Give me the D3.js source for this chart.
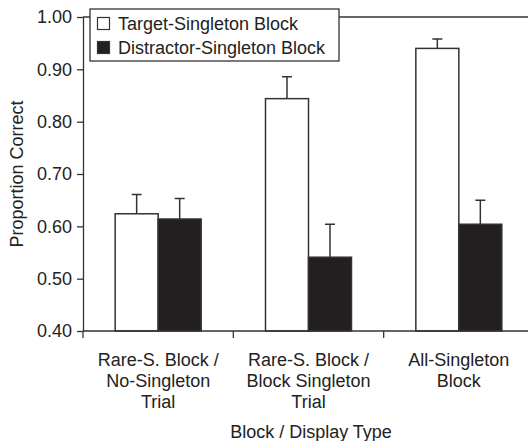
<!DOCTYPE html>
<html>
<head>
<meta charset="utf-8">
<script src="https://cdn.jsdelivr.net/npm/d3@7"></script>
<style>
  body { margin: 0; background: #fff; }
  text { font-family: "Liberation Sans", Arial, sans-serif; fill: #222; }
</style>
</head>
<body>
<div id="chart"></div>
<script>
// data
var categories = [
  ["Rare-S. Block /", "No-Singleton", "Trial"],
  ["Rare-S. Block /", "Block Singleton", "Trial"],
  ["All-Singleton", "Block"]
];
var seriesNames = ["Target-Singleton Block", "Distractor-Singleton Block"];
var targetMeans = [0.624, 0.844, 0.940];
var targetErr = [0.037, 0.042, 0.018];
var distractorMeans = [0.614, 0.541, 0.604];
var distractorErr = [0.039, 0.063, 0.046];
var yTicks = [0.40, 0.50, 0.60, 0.70, 0.80, 0.90, 1.00];

var W = 528, H = 441;
var margin = {top: 17, left: 83, bottom: 110};
var plotW = 451, plotH = H - margin.top - margin.bottom;
var ink = "#333";

var svg = d3.select("#chart").append("svg")
    .attr("width", W)
    .attr("height", H)
    .style("background-color", "white");

var g = svg.append("g")
    .attr("transform", "translate(" + margin.left + "," + margin.top + ")");

var data = categories.map(function(c, i) {
  return {
    i: i,
    vals: [
      {k: 0, v: targetMeans[i], e: targetErr[i]},
      {k: 1, v: distractorMeans[i], e: distractorErr[i]}
    ]
  };
});

var x0 = d3.scaleBand().domain(d3.range(categories.length)).range([0, plotW]);
var x1 = d3.scaleBand().domain([0, 1])
    .range([x0.bandwidth() / 2 - 43, x0.bandwidth() / 2 + 43]);
var y = d3.scaleLinear().domain([0.4, 1.0]).range([plotH, 0]);
var colors = ["#fff", "#231f20"];

// top frame line
g.append("line")
  .attr("x1", 0).attr("x2", plotW)
  .attr("y1", 0).attr("y2", 0)
  .attr("stroke", ink).attr("stroke-width", 1.3);

// bars
var groups = g.selectAll(".grp")
  .data(data)
  .enter().append("g")
  .attr("transform", function(d) { return "translate(" + x0(d.i) + ",0)"; });

groups.selectAll(".err")
  .data(function(d) { return d.vals; })
  .enter().append("path")
  .attr("d", function(d) {
    var cx = x1(d.k) + x1.bandwidth() / 2;
    return "M" + cx + "," + y(d.v) + "V" + y(d.v + d.e) +
      "M" + (cx - 5) + "," + y(d.v + d.e) + "H" + (cx + 5);
  })
  .attr("stroke", ink).attr("stroke-width", 1.5).attr("fill", "none");

groups.selectAll("rect")
  .data(function(d) { return d.vals; })
  .enter().append("rect")
  .attr("x", function(d) { return x1(d.k); })
  .attr("y", function(d) { return y(d.v); })
  .attr("width", x1.bandwidth())
  .attr("height", function(d) { return plotH - y(d.v); })
  .attr("fill", function(d) { return colors[d.k]; })
  .attr("stroke", ink).attr("stroke-width", 1.5);

// y axis
var yAxis = g.append("g")
  .call(d3.axisLeft(y).tickValues(yTicks).tickFormat(d3.format(".2f")).tickSize(6).tickSizeOuter(0));
yAxis.select(".domain").attr("stroke", ink).attr("stroke-width", 1.3);
yAxis.selectAll(".tick line").attr("stroke", ink).attr("stroke-width", 1.3);
yAxis.selectAll(".tick text")
  .attr("x", -11)
  .style("font-size", "18px")
  .style("font-family", "'Liberation Sans', Arial, sans-serif")
  .attr("fill", "#222");

// x axis with ticks between groups
var xAxis = g.append("g").attr("transform", "translate(0," + plotH + ")");
xAxis.append("line")
  .attr("x1", 0).attr("x2", plotW)
  .attr("stroke", ink).attr("stroke-width", 1.3);
xAxis.selectAll(".xt")
  .data(d3.range(categories.length + 1))
  .enter().append("line")
  .attr("x1", function(d) { return d * x0.step(); })
  .attr("x2", function(d) { return d * x0.step(); })
  .attr("y1", 0).attr("y2", 7)
  .attr("stroke", ink).attr("stroke-width", 1.3);

xAxis.selectAll(".xl")
  .data(categories)
  .enter().append("text")
  .attr("text-anchor", "middle")
  .attr("transform", function(d, i) {
    return "translate(" + (x0(i) + x0.bandwidth() / 2) + ",35)";
  })
  .style("font-size", "18px")
  .selectAll("tspan")
  .data(function(d) { return d; })
  .enter().append("tspan")
  .attr("x", 0)
  .attr("dy", function(d, j) { return j === 0 ? 0 : 21; })
  .text(function(d) { return d; });

// axis titles
svg.append("text")
  .attr("x", 311)
  .attr("y", 438)
  .attr("text-anchor", "middle")
  .style("font-size", "18px")
  .text("Block / Display Type");

svg.append("text")
  .attr("transform", "translate(23,174) rotate(-90)")
  .attr("text-anchor", "middle")
  .style("font-size", "18px")
  .text("Proportion Correct");

// legend
var leg = svg.append("g").attr("transform", "translate(90,9)");
leg.append("rect")
  .attr("width", 249).attr("height", 52)
  .attr("fill", "#fff").attr("stroke", ink).attr("stroke-width", 1.3);
var items = leg.selectAll(".li")
  .data(seriesNames)
  .enter().append("g")
  .attr("transform", function(d, i) { return "translate(0," + (14 + i * 24) + ")"; });
items.append("rect")
  .attr("x", 7.5).attr("y", -5.5)
  .attr("width", 12).attr("height", 12)
  .attr("fill", function(d, i) { return colors[i]; })
  .attr("stroke", ink).attr("stroke-width", 1.2);
items.append("text")
  .attr("x", 28).attr("y", 6.5)
  .style("font-size", "18px")
  .text(function(d) { return d; });
</script>
</body>
</html>
